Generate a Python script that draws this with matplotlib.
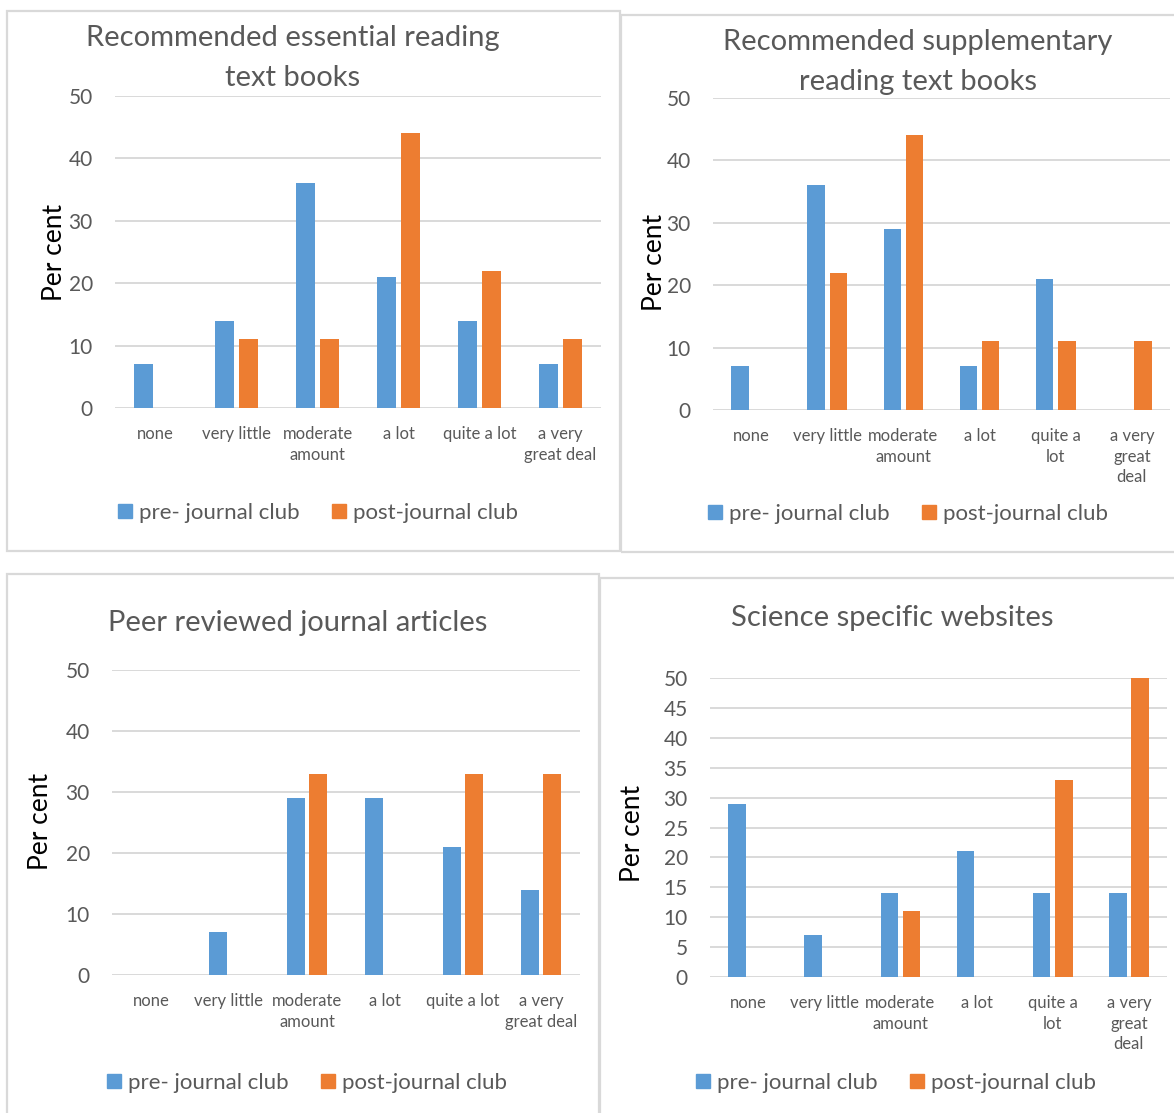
import matplotlib
matplotlib.use("Agg")
import matplotlib.pyplot as plt
from matplotlib.patches import Rectangle, Patch
import numpy as np

plt.rcParams['font.family'] = ['Lato', 'DejaVu Sans']

W, H, DPI = 1174, 1113, 100

# ---- data ----
labels_a = ["none", "very little", "moderate\namount", "a lot", "quite a lot", "a very\ngreat deal"]
labels_b = ["none", "very little", "moderate\namount", "a lot", "quite a\nlot", "a very\ngreat\ndeal"]
series_names = ["pre- journal club", "post-journal club"]

essential_pre = [7, 14, 36, 21, 14, 7]
essential_post = [0, 11, 11, 44, 22, 11]

supplementary_pre = [7, 36, 29, 7, 21, 0]
supplementary_post = [0, 22, 44, 11, 11, 11]

journal_pre = [0, 7, 29, 29, 21, 14]
journal_post = [0, 0, 33, 0, 33, 33]

websites_pre = [29, 7, 14, 21, 14, 14]
websites_post = [0, 0, 11, 0, 33, 50]

titles = ["Recommended essential reading\ntext books",
          "Recommended supplementary\nreading text books",
          "Peer reviewed journal articles",
          "Science specific websites"]

BLUE = "#5B9BD5"
ORANGE = "#ED7D31"
GRID = "#D9D9D9"
TXT = "#595959"

fig = plt.figure(figsize=(W / DPI, H / DPI), dpi=DPI)
fig.patch.set_facecolor("white")


def fx(x):
    return x / W


def fy(y):
    return 1 - y / H


def border(x0, y0, x1, y1):
    fig.add_artist(Rectangle((fx(x0), fy(y1)), fx(x1 - x0), (y1 - y0) / H,
                             transform=fig.transFigure, fill=False,
                             ec=GRID, lw=1.6, zorder=0))


panels = [
    dict(pre=essential_pre, post=essential_post, cats=labels_a, title=titles[0],
         box=(7, 11, 620, 551), ax=(115, 601, 96, 408), step=10,
         title_xy=(293, 58), ylab_xy=(54, 252), leg_xy=(318, 513)),
    dict(pre=supplementary_pre, post=supplementary_post, cats=labels_b, title=titles[1],
         box=(621, 15, 1180, 552), ax=(713, 1170, 98, 410), step=10,
         title_xy=(918, 62), ylab_xy=(655, 262), leg_xy=(908, 514)),
    dict(pre=journal_pre, post=journal_post, cats=labels_a, title=titles[2],
         box=(7, 574, 599, 1120), ax=(112, 580, 670, 975), step=10,
         title_xy=(298, 623), ylab_xy=(41, 821), leg_xy=(307, 1083)),
    dict(pre=websites_pre, post=websites_post, cats=labels_b, title=titles[3],
         box=(600, 578, 1180, 1120), ax=(710, 1167, 678, 977), step=5,
         title_xy=(892, 618), ylab_xy=(632, 833), leg_xy=(896, 1083)),
]

bw = 0.23
off = 0.145

for p in panels:
    border(*p["box"])
    l, r, t, b = p["ax"]
    ax = fig.add_axes([fx(l), fy(b), fx(r - l), (b - t) / H])
    x = np.arange(len(p["cats"]))
    ax.bar(x - off, p["pre"], width=bw, color=BLUE, zorder=3)
    ax.bar(x + off, p["post"], width=bw, color=ORANGE, zorder=3)
    ax.set_xlim(-0.5, len(p["cats"]) - 0.5)
    ax.set_ylim(0, 50)
    ax.set_yticks(np.arange(0, 51, p["step"]))
    ax.set_xticks(x)
    ax.set_xticklabels(p["cats"], fontsize=12, color=TXT, linespacing=1.35)
    ax.tick_params(axis="x", length=0, pad=13)
    ax.tick_params(axis="y", length=0, pad=16, labelsize=15, labelcolor=TXT)
    for s in ax.spines.values():
        s.set_visible(False)
    ax.grid(axis="y", color=GRID, lw=1.4, zorder=0)
    ax.set_axisbelow(True)
    ax.set_facecolor("none")

    fig.text(fx(p["title_xy"][0]), fy(p["title_xy"][1]), p["title"], ha="center",
             va="center", fontsize=21, color=TXT, linespacing=1.62)
    fig.text(fx(p["ylab_xy"][0]), fy(p["ylab_xy"][1]), "Per cent", rotation=90,
             ha="center", va="center", fontsize=19, color="black")

    handles = [Patch(color=BLUE), Patch(color=ORANGE)]
    fig.legend(handles, series_names, loc="center",
               bbox_to_anchor=(fx(p["leg_xy"][0]), fy(p["leg_xy"][1])),
               ncol=2, frameon=False, fontsize=16, labelcolor=TXT,
               handlelength=0.62, handleheight=0.62, handletextpad=0.3,
               columnspacing=1.5, borderpad=0, borderaxespad=0)

fig.savefig("out.png", dpi=DPI, facecolor="white")
